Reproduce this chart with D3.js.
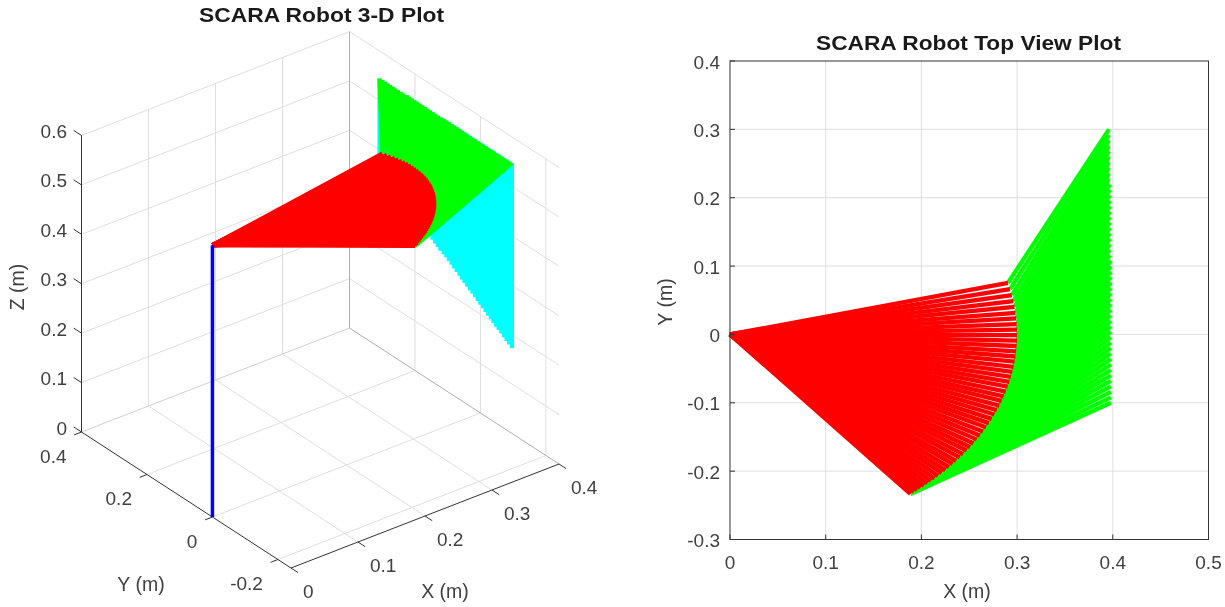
<!DOCTYPE html>
<html><head><meta charset="utf-8">
<script src="https://cdn.jsdelivr.net/npm/d3@7/dist/d3.min.js"></script>
<style>
html,body{margin:0;padding:0;background:#fff;width:1225px;height:607px;overflow:hidden}
svg{display:block;filter:blur(0.6px)}
text{font-family:"Liberation Sans",Arial,sans-serif;fill:#404040}
</style></head><body><svg id="c" width="1225" height="607"></svg>
<script>
// Link end points of the SCARA arm (m), one entry per pose along the path
const elbowX=[.2904,.2926,.2945,.2960,.2973,.2983,.2991,.2996,.2999,.3000,.2999,.2995,.2990,.2983,.2973,.2962,.2950,.2935,.2919,.2901,.2881,.2860,.2838,.2814,.2788,.2762,.2734,.2705,.2675,.2643,.2611,.2578,.2543,.2508,.2473,.2436,.2400,.2363,.2326,.2288,.2250,.2212,.2174,.2137,.2099,.2062,.2026,.1990,.1955,.1920,.1885];
const elbowY=[.0753,.0664,.0574,.0487,.0402,.0316,.0234,.0151,.0069,-.0011,-.0091,-.0169,-.0247,-.0323,-.0399,-.0475,-.0548,-.0622,-.0694,-.0765,-.0836,-.0905,-.0973,-.1041,-.1107,-.1172,-.1235,-.1298,-.1359,-.1419,-.1478,-.1535,-.1591,-.1646,-.1698,-.1751,-.1800,-.1848,-.1895,-.1940,-.1985,-.2026,-.2067,-.2106,-.2144,-.2179,-.2213,-.2245,-.2276,-.2305,-.2334];
const endX=[.396,.396,.396,.396,.396,.396,.396,.396,.396,.396,.397,.397,.397,.397,.397,.397,.397,.397,.397,.397,.397,.397,.397,.397,.398,.398,.398,.398,.398,.398,.398,.398,.398,.398,.398,.398,.398,.398,.398,.398,.398,.398,.398,.398,.398,.398,.398,.398,.398,.398,.398];
const endY=[.300,.292,.284,.276,.268,.260,.252,.244,.236,.228,.220,.212,.204,.196,.188,.180,.172,.164,.156,.148,.140,.132,.124,.116,.108,.100,.092,.084,.076,.068,.060,.052,.044,.036,.028,.020,.012,.004,-.004,-.012,-.020,-.028,-.036,-.044,-.052,-.060,-.068,-.076,-.084,-.092,-.100];
const toolZ=[.370,.366,.362,.358,.354,.351,.347,.343,.339,.335,.331,.327,.323,.319,.315,.312,.308,.304,.300,.296,.292,.288,.284,.280,.276,.273,.269,.265,.261,.257,.253,.249,.245,.241,.237,.234,.230,.226,.222,.218,.214,.210,.206,.202,.198,.195,.191,.187,.183,.179,.175];
const armZ=0.55;
const baseX=0, baseY=0;
// Tick values
const topXTicks=[0,.1,.2,.3,.4,.5], topYTicks=[-.3,-.2,-.1,0,.1,.2,.3,.4];
const x3Ticks=[0,.1,.2,.3,.4], y3Ticks=[-.2,0,.2,.4], z3Ticks=[0,.1,.2,.3,.4,.5,.6];
const xLim3=[0,.4], yLim3=[-.24,.4], zLim3=[0,.6];
const titles=["SCARA Robot 3-D Plot","SCARA Robot Top View Plot"];
const idx=d3.range(endY.length);
const RED="#ff0000",GREEN="#00ff00",CYAN="#00ffff",BLUE="#0000ff";
const LW=4.3, GRID="#dedede", AX="#333";
const TF=19, LF=19.5, HF=20;
const svg=d3.select("#c");
const fmt=v=>String(+v.toFixed(1));
function segs(g,cls,color,w,a,b){
  g.append("g").selectAll("line."+cls).data(idx).join("line").attr("class",cls)
   .attr("x1",i=>a(i)[0]).attr("y1",i=>a(i)[1]).attr("x2",i=>b(i)[0]).attr("y2",i=>b(i)[1])
   .attr("stroke",color).attr("stroke-width",w);
}
function title(sel,cx,cy,len,t){
  sel.append("text").attr("x",cx-len/2).attr("y",cy).attr("font-size",HF).attr("font-weight","bold")
    .attr("textLength",len).attr("lengthAdjust","spacingAndGlyphs")
    .attr("dominant-baseline","central").style("fill","#1a1a1a").text(t);
}
/* ---------- right: top view ---------- */
(function(){
  const sx=d3.scaleLinear().domain([0,.5]).range([730,1208.5]);
  const sy=d3.scaleLinear().domain([-.3,.4]).range([539.5,61]);
  const g=svg.append("g");
  g.append("g").selectAll("line").data(topXTicks.slice(1,-1)).join("line")
    .attr("x1",sx).attr("x2",sx).attr("y1",sy(.4)).attr("y2",sy(-.3)).attr("stroke",GRID);
  g.append("g").selectAll("line").data(topYTicks.slice(1,-1)).join("line")
    .attr("y1",sy).attr("y2",sy).attr("x1",sx(0)).attr("x2",sx(.5)).attr("stroke",GRID);
  segs(g,"g2",GREEN,LW,i=>[sx(elbowX[i]),sy(elbowY[i])],i=>[sx(endX[i]),sy(endY[i])]);
  segs(g,"r2",RED,LW,i=>[sx(baseX),sy(baseY)],i=>[sx(elbowX[i]),sy(elbowY[i])]);
  const ax=g.append("g").attr("class","axes");
  ax.append("rect").attr("x",sx(0)).attr("y",sy(.4)).attr("width",sx(.5)-sx(0)).attr("height",sy(-.3)-sy(.4))
    .attr("fill","none").attr("stroke",AX);
  ax.selectAll("line.tx").data(topXTicks).join("line").attr("class","tx")
    .attr("x1",sx).attr("x2",sx).attr("y1",sy(-.3)).attr("y2",sy(-.3)-5).attr("stroke",AX);
  ax.selectAll("line.ty").data(topYTicks).join("line").attr("class","ty")
    .attr("y1",sy).attr("y2",sy).attr("x1",sx(0)).attr("x2",sx(0)+5).attr("stroke",AX);
  ax.selectAll("text.tx").data(topXTicks).join("text").attr("class","tx").attr("font-size",TF)
    .attr("x",sx).attr("y",562).attr("text-anchor","middle").attr("dominant-baseline","central").text(fmt);
  ax.selectAll("text.ty").data(topYTicks).join("text").attr("class","ty").attr("font-size",TF)
    .attr("x",720).attr("y",d=>sy(d)+1).attr("text-anchor","end").attr("dominant-baseline","central").text(fmt);
  ax.append("text").attr("x",967).attr("y",591).attr("font-size",LF).attr("text-anchor","middle").attr("dominant-baseline","central").text("X (m)");
  ax.append("text").attr("transform","translate(665,302) rotate(-90)").attr("font-size",LF).attr("text-anchor","middle").attr("dominant-baseline","central").text("Y (m)");
  title(ax,968.5,43,305,titles[1]);
})();
/* ---------- left: 3-D view ---------- */
(function(){
  const xH=d3.scaleLinear().domain(xLim3).range([0,268]);
  const xV=d3.scaleLinear().domain(xLim3).range([0,-104]);
  const yH=d3.scaleLinear().domain(yLim3).range([0,-209.5]);
  const yV=d3.scaleLinear().domain(yLim3).range([0,-136]);
  const zV=d3.scaleLinear().domain(zLim3).range([0,-296.5]);
  const P=(x,y,z)=>[291+xH(x)+yH(y),568+xV(x)+yV(y)+zV(z)];
  const g=svg.append("g");
  const [x0,x1]=xLim3,[y0,y1]=yLim3,[z0,z1]=zLim3;
  const seg=(sel,a,b,c,w)=>sel.append("line").attr("x1",a[0]).attr("y1",a[1]).attr("x2",b[0]).attr("y2",b[1]).attr("stroke",c).attr("stroke-width",w||1);
  const gr=g.append("g");
  x3Ticks.slice(1,-1).forEach(v=>{seg(gr,P(v,y0,z0),P(v,y1,z0),GRID);seg(gr,P(v,y1,z0),P(v,y1,z1),GRID);});
  y3Ticks.slice(0,-1).forEach(v=>{seg(gr,P(x0,v,z0),P(x1,v,z0),GRID);seg(gr,P(x1,v,z0),P(x1,v,z1),GRID);});
  z3Ticks.slice(1).forEach(v=>{seg(gr,P(x0,y1,v),P(x1,y1,v),GRID);seg(gr,P(x1,y1,v),P(x1,y0,v),GRID);});
  seg(gr,P(x0,y1,z0),P(x1,y1,z0),"#d0d0d0");
  seg(gr,P(x1,y1,z0),P(x1,y0,z0),"#b0b0b0");
  seg(gr,P(x1,y1,z0),P(x1,y1,z1),"#b0b0b0");
  const ax=g.append("g");
  seg(ax,P(x0,y1,z0),P(x0,y1,z1),AX);
  seg(ax,P(x0,y0,z0),P(x0,y1,z0),AX);
  seg(ax,P(x0,y0,z0),P(x1,y0,z0),AX);
  z3Ticks.forEach(v=>seg(ax,P(x0,y1,v),P(x0,y1+.024,v),AX));
  y3Ticks.forEach(v=>seg(ax,P(x0,v,z0),P(x0-.011,v,z0),AX));
  x3Ticks.forEach(v=>seg(ax,P(v,y0,z0),P(v,y0-.022,z0),AX));
  ax.selectAll("text.tz").data(z3Ticks).join("text").attr("class","tz").attr("font-size",TF)
    .attr("x",d=>P(x0,y1,d)[0]-14.5).attr("y",d=>P(x0,y1,d)[1]-4).attr("text-anchor","end").attr("dominant-baseline","central").text(fmt);
  ax.selectAll("text.ty").data(y3Ticks).join("text").attr("class","ty").attr("font-size",TF)
    .attr("x",d=>P(x0,d,z0)[0]-15).attr("y",d=>P(x0,d,z0)[1]+24).attr("text-anchor","end").attr("dominant-baseline","central").text(fmt);
  ax.selectAll("text.tx").data(x3Ticks).join("text").attr("class","tx").attr("font-size",TF)
    .attr("x",d=>P(d,y0,z0)[0]+12).attr("y",d=>P(d,y0,z0)[1]+23).attr("text-anchor","start").attr("dominant-baseline","central").text(fmt);
  ax.append("text").attr("x",445).attr("y",591).attr("font-size",LF).attr("text-anchor","middle").attr("dominant-baseline","central").text("X (m)");
  ax.append("text").attr("x",141).attr("y",584).attr("font-size",LF).attr("text-anchor","middle").attr("dominant-baseline","central").text("Y (m)");
  ax.append("text").attr("transform","translate(17,287) rotate(-90)").attr("font-size",LF).attr("text-anchor","middle").attr("dominant-baseline","central").text("Z (m)");
  title(ax,321.5,15,245,titles[0]);
  const m=g.append("g");
  segs(m,"c3",CYAN,LW,i=>P(endX[i],endY[i],armZ),i=>P(endX[i],endY[i],toolZ[i]));
  segs(m,"g3",GREEN,LW,i=>P(elbowX[i],elbowY[i],armZ),i=>P(endX[i],endY[i],armZ));
  segs(m,"r3",RED,LW,i=>P(baseX,baseY,armZ),i=>P(elbowX[i],elbowY[i],armZ));
  seg(m,P(baseX,baseY,0),P(baseX,baseY,armZ),BLUE,3.5);
})();
</script></body></html>
